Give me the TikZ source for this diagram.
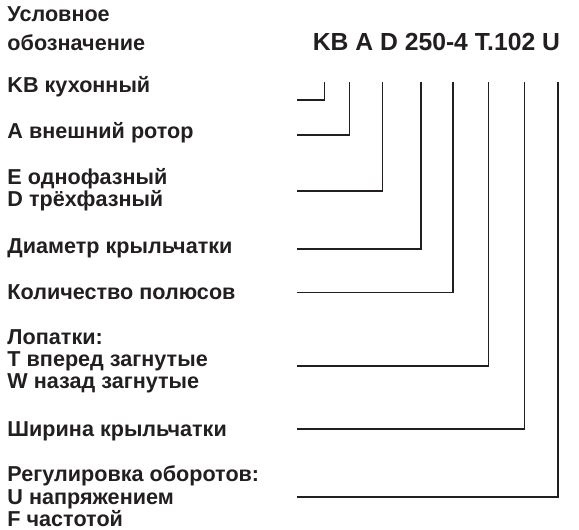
\documentclass[tikz,border=0pt]{standalone}
\usepackage{fontspec}
\setmainfont{Liberation Sans}
\definecolor{ink}{HTML}{231F20}
\begin{document}
\begin{tikzpicture}[x=1pt,y=-1pt,
  lbl/.style={anchor=base west,inner sep=0pt,text=ink,font=\fontsize{21.6}{24}\selectfont\bfseries},
  ttl/.style={anchor=base west,inner sep=0pt,text=ink,font=\fontsize{24.7}{28}\selectfont\bfseries},
  conn/.style={draw=ink,line width=1.6pt}]
\useasboundingbox (0,0) rectangle (579,530);
% left labels
\node[lbl] (h1) at (7.3,21.7) {Условное};
\node[lbl] (h2) at (7.3,50) {обозначение};
\node[ttl] (code) at (312.7,50) {KB A D 250-4 T.102 U};
\node[lbl] (kb) at (7.3,92.7) {KB кухонный};
\node[lbl] (a) at (7.3,138) {A внешний ротор};
\node[lbl] (e) at (7.3,184) {E однофазный};
\node[lbl] (d) at (7.3,206) {D трёхфазный};
\node[lbl] (dia) at (7.3,253) {Диаметр крыльчатки};
\node[lbl] (pol) at (7.3,299) {Количество полюсов};
\node[lbl] (lop) at (7.3,344) {Лопатки:};
\node[lbl] (t) at (7.3,366.7) {T вперед загнутые};
\node[lbl] (w) at (7.3,388.7) {W назад загнутые};
\node[lbl] (shir) at (7.3,436) {Ширина крыльчатки};
\node[lbl] (reg) at (7.3,481.7) {Регулировка оборотов:};
\node[lbl] (u) at (7.3,504) {U напряжением};
\node[lbl] (f) at (7.3,526.7) {F частотой};
% connector ends
\coordinate (t1) at (324.3,82);  \coordinate (l1) at (297,100);
\coordinate (t2) at (349.3,82);  \coordinate (l2) at (297,135);
\coordinate (t3) at (382.3,82);  \coordinate (l3) at (297,190.7);
\coordinate (t4) at (420.7,82);  \coordinate (l4) at (297,248.7);
\coordinate (t5) at (452.7,82);  \coordinate (l5) at (297,292.3);
\coordinate (t6) at (488.3,82);  \coordinate (l6) at (297,366);
\coordinate (t7) at (524.3,82);  \coordinate (l7) at (297,429);
\coordinate (t8) at (558,82);    \coordinate (l8) at (297,496.7);
\foreach \i in {1,...,8}{\draw[conn] (t\i) |- (l\i);}
\end{tikzpicture}
\end{document}
